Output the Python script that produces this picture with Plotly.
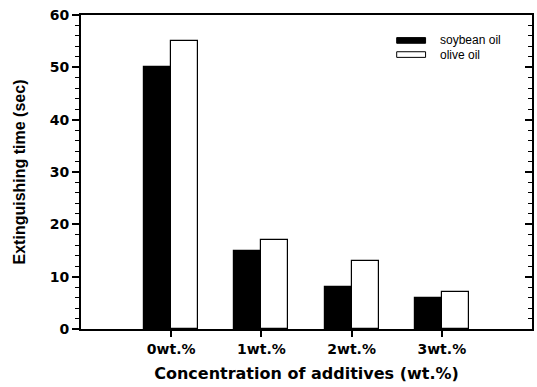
import plotly.graph_objects as go

# Extinguishing time by additive concentration
positions = [0, 1, 2, 3]
tick_labels = ["0wt.%", "1wt.%", "2wt.%", "3wt.%"]
series_names = ["soybean oil", "olive oil"]
soybean_oil = [50, 15, 8, 6]
olive_oil = [55, 17, 13, 7]

FONT = "Liberation Sans, Arial, sans-serif"
WIDE = "DejaVu Sans, Verdana, sans-serif"
BAR_W = 0.3
fills = ["black", "white"]

fig = go.Figure()
for name, vals, off, fill in zip(series_names, [soybean_oil, olive_oil],
                                 [-BAR_W / 2, BAR_W / 2], fills):
    fig.add_trace(go.Bar(
        x=[p + off for p in positions], y=vals, width=BAR_W, name=name,
        marker=dict(color=fill, line=dict(color="black", width=1.2)),
        showlegend=False,
    ))
# invisible trace carrying the right-hand axis with inward ticks
fig.add_trace(go.Scatter(x=[None], y=[None], yaxis="y2", showlegend=False, hoverinfo="skip"))

# hand-drawn legend: wide swatches with labels
legend_rows = [(0.928, 0.910), (0.883, 0.865)]
for (top, bot), name, fill in zip(legend_rows, series_names, fills):
    fig.add_shape(type="rect", xref="paper", yref="paper",
                  x0=0.700, x1=0.764, y0=bot, y1=top,
                  fillcolor=fill, line=dict(color="black", width=1))
    fig.add_annotation(xref="paper", yref="paper", x=0.791, y=(top + bot) / 2,
                       xanchor="left", yanchor="middle", showarrow=False,
                       text=name, font=dict(family=FONT, size=12, color="black"))

fig.update_layout(
    width=537, height=387,
    margin=dict(l=81, r=3, t=15, b=58),
    paper_bgcolor="white", plot_bgcolor="white",
    barmode="overlay", bargap=0,
    font=dict(family=FONT, size=13, color="black"),
    showlegend=False,
    xaxis=dict(
        range=[-1, 4], tickvals=positions, ticktext=tick_labels,
        ticks="outside", ticklen=6, tickwidth=2, tickcolor="black",
        showline=True, linecolor="black", linewidth=2, mirror=True,
        showgrid=False, zeroline=False,
        tickfont=dict(family=WIDE, size=14, color="black", weight="bold"),
        title=dict(text="<b>Concentration of additives (wt.%)</b>",
                   font=dict(family=WIDE, size=16), standoff=12),
    ),
    yaxis=dict(
        range=[0, 60], dtick=10, ticks="outside", ticklen=7, tickwidth=2,
        tickcolor="black",
        minor=dict(dtick=2, ticks="outside", ticklen=4, tickwidth=1, tickcolor="black"),
        showline=True, linecolor="black", linewidth=2, mirror=True,
        showgrid=False, zeroline=False,
        tickfont=dict(family=WIDE, size=14, color="black", weight="bold"),
        title=dict(text="<b>Extinguishing time (sec)</b>",
                   font=dict(family=FONT, size=16), standoff=20),
    ),
    yaxis2=dict(
        range=[0, 60], dtick=10, overlaying="y", side="right",
        ticks="inside", ticklen=7, tickwidth=2, tickcolor="black",
        minor=dict(dtick=2, ticks="inside", ticklen=4, tickwidth=1, tickcolor="black"),
        showticklabels=False, showgrid=False, zeroline=False, showline=False,
    ),
)

fig.write_html("out.html")
